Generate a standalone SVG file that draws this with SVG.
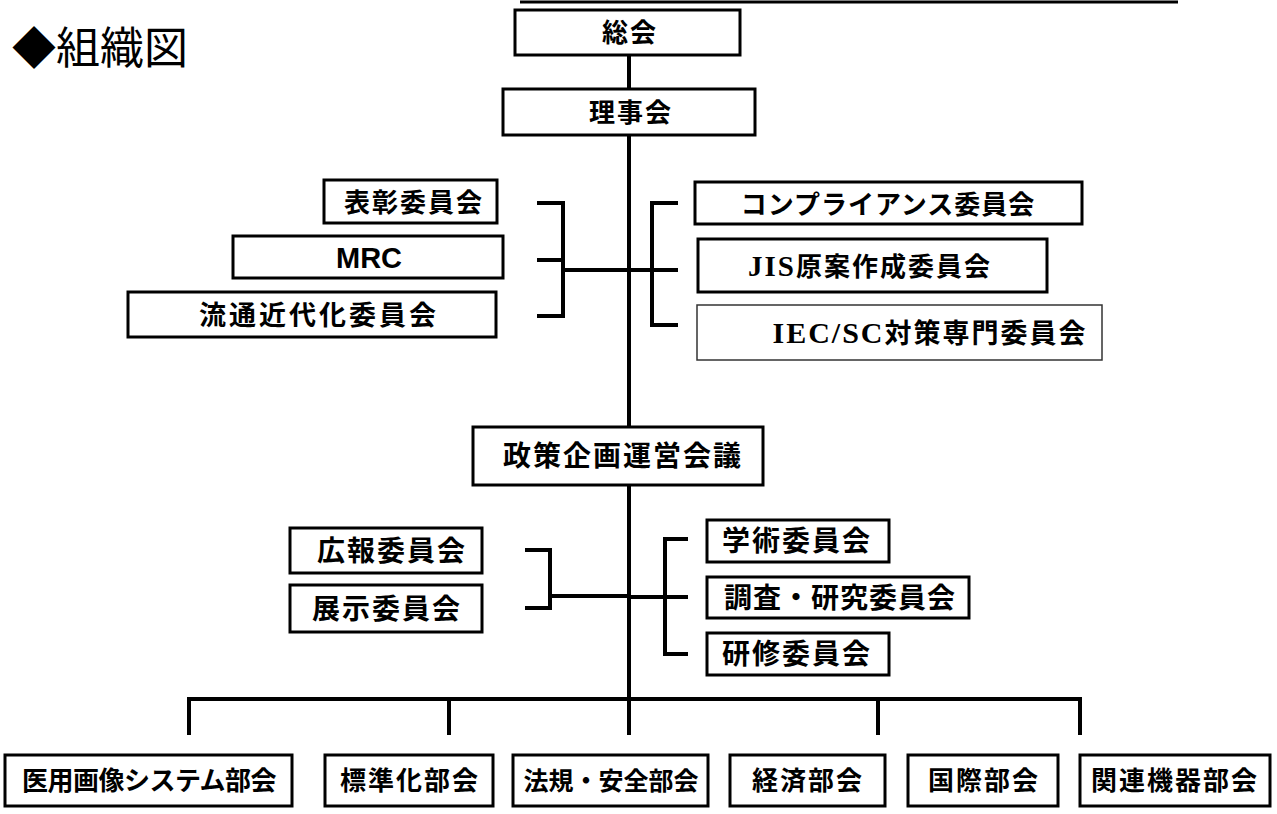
<svg xmlns="http://www.w3.org/2000/svg" width="1277" height="814" viewBox="0 0 1277 814">
<style>
.box{fill:#fff;stroke:#000;stroke-width:3}
.thin{fill:#fff;stroke:#333;stroke-width:1.5}
.t{font-family:"Noto Sans CJK JP","Noto Sans",sans-serif;font-weight:bold;font-size:26px;fill:#000;text-anchor:middle;letter-spacing:2px}
.ser{font-family:"Liberation Serif",serif;font-weight:bold;font-size:29px}
.ar{font-family:"Liberation Sans",Arial,sans-serif;font-weight:bold;font-size:29px;letter-spacing:0}
.ln{fill:none;stroke:#000;stroke-width:4;stroke-linecap:butt}
</style>
<rect width="1277" height="814" fill="#fff"/>
<text x="12" y="64" font-family="'Noto Sans CJK JP',sans-serif" font-size="44" fill="#000">◆組織図</text>
<line x1="520" y1="2" x2="1178" y2="2" stroke="#000" stroke-width="3"/>
<g id="connectors">
<path class="ln" d="M629 55V735"/>
<path class="ln" d="M537 203H563V316H537M537 260H563M563 270H629"/>
<path class="ln" d="M678 203H652V325H678M629 270H678"/>
<path class="ln" d="M525 550H550V608H525M550 596H629"/>
<path class="ln" d="M688 539H665V654H688M629 597H688"/>
<path class="ln" d="M189 735V699H1080V735M449 699V735M878 699V735"/>
</g>
<g id="n-soukai"><rect class="box" x="515" y="10" width="225" height="45"/><text class="t" x="630" y="42">総会</text></g>
<g id="n-rijikai"><rect class="box" x="503" y="89" width="252" height="46"/><text class="t" x="631" y="122">理事会</text></g>
<g id="n-hyosho"><rect class="box" x="324" y="180" width="173" height="43"/><text class="t" x="414" y="212">表彰委員会</text></g>
<g id="n-mrc"><rect class="box" x="233" y="236" width="270" height="42"/><text class="t ar" x="369" y="268">MRC</text></g>
<g id="n-ryutsu"><rect class="box" x="128" y="292" width="368" height="45"/><text class="t" x="319" y="325" style="font-size:27px;letter-spacing:3px">流通近代化委員会</text></g>
<g id="n-comp"><rect class="box" x="695" y="182" width="387" height="42"/><text class="t" x="888" y="214" style="letter-spacing:1px">コンプライアンス委員会</text></g>
<g id="n-jis"><rect class="box" x="698" y="239" width="349" height="53"/><text class="t" x="870" y="276"><tspan class="ser">JIS</tspan>原案作成委員会</text></g>
<g id="n-iec"><rect class="thin" x="697" y="305" width="405" height="55"/><text class="t" x="930" y="343" style="font-size:27px"><tspan class="ser" style="font-size:30px">IEC/SC</tspan>対策専門委員会</text></g>
<g id="n-seisaku"><rect class="box" x="473" y="427" width="290" height="58"/><text class="t" x="623" y="466" style="font-size:28px">政策企画運営会議</text></g>
<g id="n-koho"><rect class="box" x="290" y="528" width="192" height="45"/><text class="t" x="392" y="561" style="font-size:28px">広報委員会</text></g>
<g id="n-tenji"><rect class="box" x="290" y="585" width="192" height="47"/><text class="t" x="387" y="619" style="font-size:28px">展示委員会</text></g>
<g id="n-gakujutsu"><rect class="box" x="707" y="520" width="182" height="42"/><text class="t" x="797" y="551" style="font-size:28px">学術委員会</text></g>
<g id="n-chosa"><rect class="box" x="707" y="577" width="262" height="41"/><text class="t" x="840" y="608" style="font-size:28px;letter-spacing:1px">調査・研究委員会</text></g>
<g id="n-kenshu"><rect class="box" x="707" y="633" width="182" height="42"/><text class="t" x="797" y="664" style="font-size:28px">研修委員会</text></g>
<g id="n-iyo"><rect class="box" x="5" y="755" width="287" height="51"/><text class="t" x="149" y="790" style="letter-spacing:-0.5px">医用画像システム部会</text></g>
<g id="n-hyojun"><rect class="box" x="325" y="755" width="168" height="51"/><text class="t" x="410" y="790">標準化部会</text></g>
<g id="n-hoki"><rect class="box" x="513" y="755" width="195" height="51"/><text class="t" x="611" y="790" style="font-size:25px;letter-spacing:0">法規・安全部会</text></g>
<g id="n-keizai"><rect class="box" x="730" y="755" width="155" height="51"/><text class="t" x="808" y="790">経済部会</text></g>
<g id="n-kokusai"><rect class="box" x="908" y="755" width="150" height="51"/><text class="t" x="984" y="790">国際部会</text></g>
<g id="n-kanren"><rect class="box" x="1080" y="755" width="190" height="51"/><text class="t" x="1175" y="790">関連機器部会</text></g>
</svg>
